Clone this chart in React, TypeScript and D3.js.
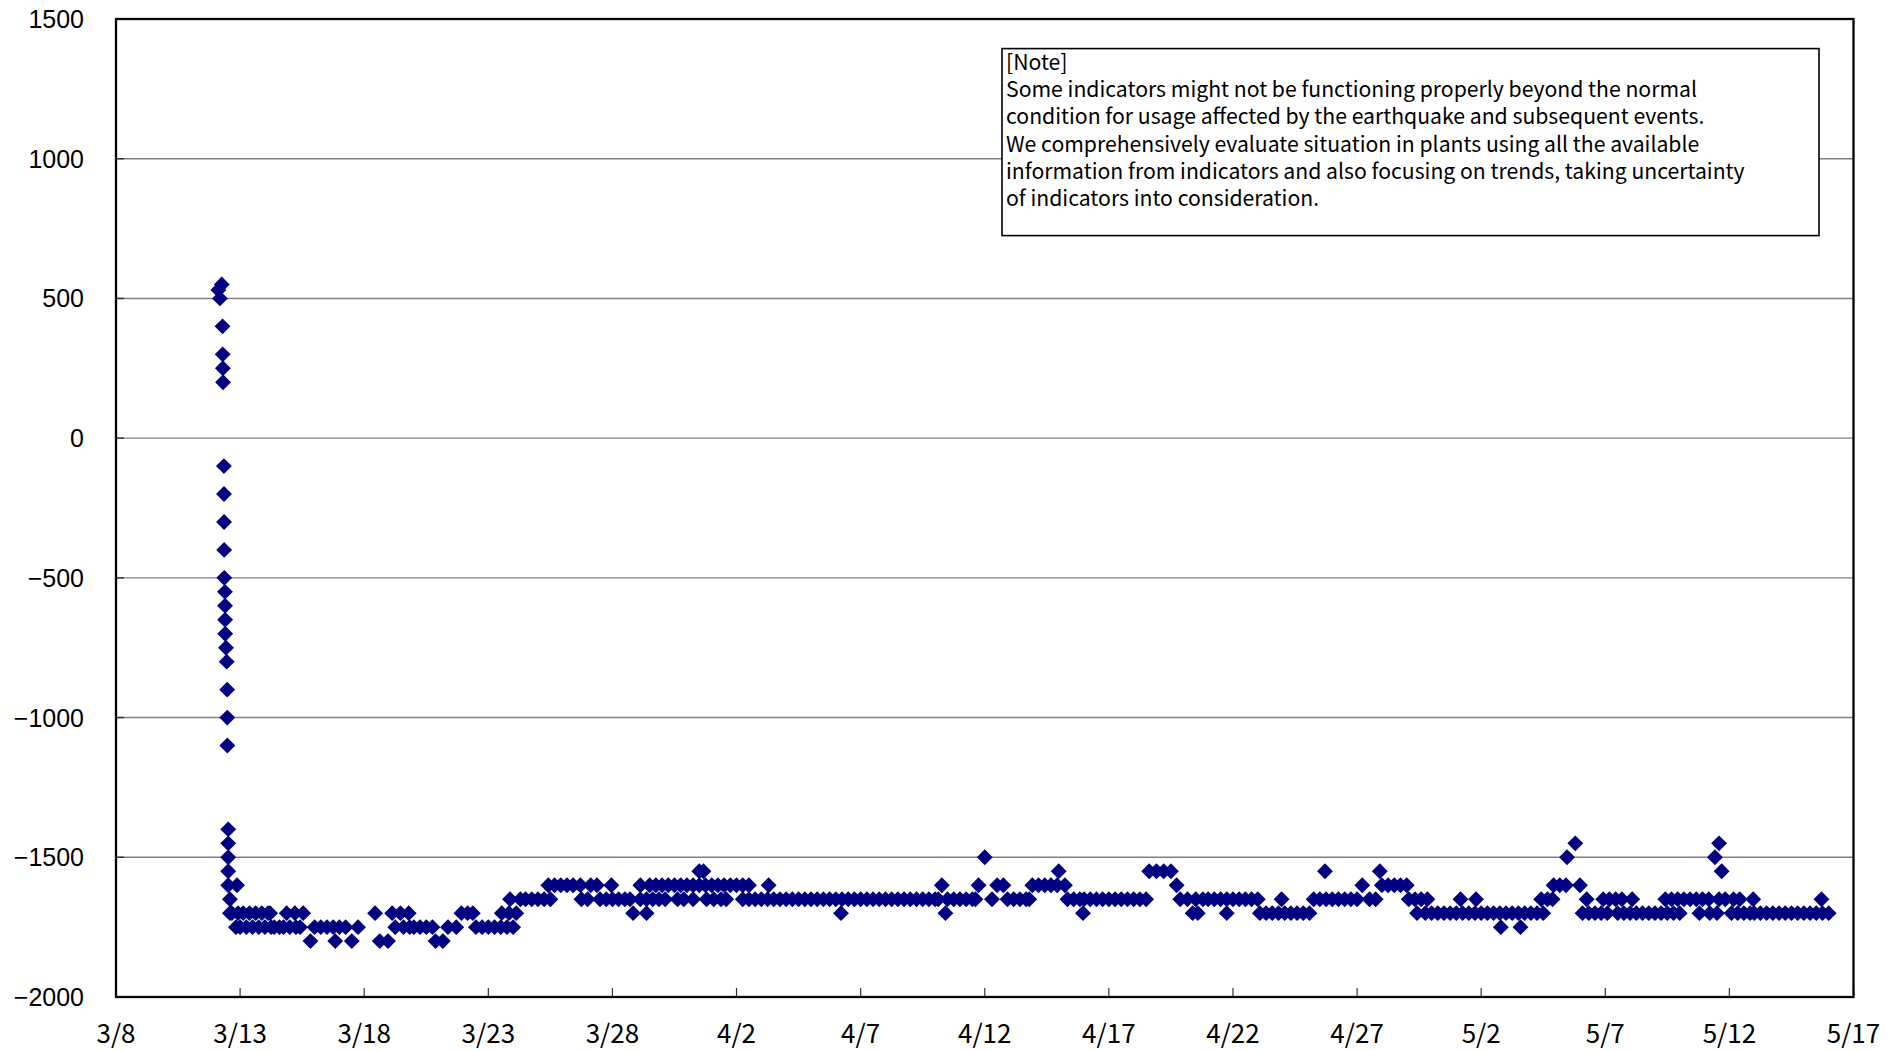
import React from "react";
import * as d3 from "d3";

// ---- data (time "M/D HH:MM", value) ----
const spikeReadings: [string, number][] = [
  ["3/12 03:00", 530], ["3/12 04:30", 500], ["3/12 06:15", 550],
  ["3/12 07:00", 400], ["3/12 07:10", 300], ["3/12 07:20", 250], ["3/12 07:30", 200],
  ["3/12 08:20", -100], ["3/12 08:25", -200], ["3/12 08:30", -300], ["3/12 08:35", -400], ["3/12 08:40", -500],
  ["3/12 09:20", -550], ["3/12 09:25", -600], ["3/12 09:30", -650], ["3/12 09:35", -700],
  ["3/12 10:20", -750], ["3/12 11:00", -800],
  ["3/12 11:30", -900], ["3/12 11:35", -1000], ["3/12 11:40", -1100],
  ["3/12 12:30", -1400], ["3/12 12:30", -1450], ["3/12 12:30", -1500], ["3/12 12:30", -1550],
  ["3/12 12:30", -1600], ["3/12 14:10", -1650], ["3/12 14:10", -1700], ["3/12 21:00", -1600],
];

const marchReadings: [string, number][] = [
  ["3/12 16:00", -1700], ["3/12 20:00", -1750], ["3/12 22:00", -1700],
  ["3/13 00:00", -1750], ["3/13 03:00", -1700], ["3/13 06:00", -1750], ["3/13 09:00", -1700],
  ["3/13 12:00", -1750], ["3/13 15:00", -1700], ["3/13 18:00", -1750], ["3/13 21:00", -1700],
  ["3/14 00:00", -1750], ["3/14 03:00", -1700], ["3/14 05:00", -1700], ["3/14 06:00", -1750],
  ["3/14 09:00", -1750], ["3/14 14:00", -1750], ["3/14 18:00", -1750], ["3/14 21:00", -1700],
  ["3/15 00:00", -1750], ["3/15 05:00", -1700], ["3/15 06:00", -1750], ["3/15 10:00", -1750],
  ["3/15 13:00", -1700], ["3/15 20:00", -1800],
  ["3/16 00:00", -1750], ["3/16 06:00", -1750], ["3/16 12:00", -1750], ["3/16 18:00", -1750], ["3/16 20:00", -1800],
  ["3/17 00:00", -1750], ["3/17 06:00", -1750], ["3/17 12:00", -1800], ["3/17 18:00", -1750],
  ["3/18 10:30", -1700], ["3/18 15:00", -1800], ["3/18 23:00", -1800],
  ["3/19 03:00", -1700], ["3/19 06:00", -1750], ["3/19 11:00", -1700], ["3/19 14:00", -1750],
  ["3/19 19:00", -1700], ["3/19 20:00", -1750],
  ["3/20 00:00", -1750], ["3/20 06:00", -1750], ["3/20 12:00", -1750], ["3/20 18:00", -1750], ["3/20 21:00", -1800],
  ["3/21 04:00", -1800], ["3/21 09:00", -1750], ["3/21 17:00", -1750], ["3/21 22:00", -1700],
  ["3/22 04:00", -1700], ["3/22 09:00", -1700], ["3/22 12:00", -1750], ["3/22 18:00", -1750],
  ["3/23 00:00", -1750], ["3/23 06:00", -1750], ["3/23 12:00", -1750], ["3/23 13:00", -1700],
  ["3/23 18:00", -1750], ["3/23 20:00", -1700], ["3/23 21:00", -1650],
  ["3/24 00:00", -1750], ["3/24 03:00", -1700], ["3/24 07:00", -1650], ["3/24 12:00", -1650], ["3/24 18:00", -1650],
  ["3/25 00:00", -1650], ["3/25 06:00", -1650], ["3/25 10:00", -1600], ["3/25 12:00", -1650],
  ["3/25 16:00", -1600], ["3/25 22:00", -1600],
  ["3/26 04:00", -1600], ["3/26 10:00", -1600], ["3/26 17:00", -1600], ["3/26 18:00", -1650],
  ["3/27 00:00", -1650], ["3/27 03:00", -1600], ["3/27 09:00", -1600], ["3/27 12:00", -1650],
  ["3/27 18:00", -1650], ["3/27 23:00", -1600],
  ["3/28 00:00", -1650], ["3/28 06:00", -1650], ["3/28 12:00", -1650], ["3/28 17:00", -1650], ["3/28 20:00", -1700],
  ["3/29 03:00", -1650], ["3/29 03:00", -1600], ["3/29 09:00", -1700], ["3/29 09:00", -1650],
  ["3/29 12:00", -1600], ["3/29 15:00", -1650], ["3/29 18:00", -1600], ["3/29 21:00", -1650],
  ["3/30 00:00", -1600], ["3/30 03:00", -1650], ["3/30 06:00", -1600], ["3/30 12:00", -1600],
  ["3/30 15:00", -1650], ["3/30 18:00", -1600], ["3/30 21:00", -1650],
  ["3/31 00:00", -1600], ["3/31 06:00", -1600], ["3/31 06:00", -1650], ["3/31 12:00", -1550],
  ["3/31 12:00", -1600], ["3/31 16:00", -1550], ["3/31 18:00", -1600], ["3/31 19:00", -1650],
];

const aprilReadings: [string, number][] = [
  ["4/1 00:00", -1600], ["4/1 02:00", -1650], ["4/1 06:00", -1600], ["4/1 09:00", -1650],
  ["4/1 12:00", -1600], ["4/1 14:00", -1650], ["4/1 18:00", -1600],
  ["4/2 00:00", -1600], ["4/2 06:00", -1600], ["4/2 06:00", -1650], ["4/2 12:00", -1600],
  ["4/2 12:00", -1650], ["4/2 18:00", -1650],
  ["4/3 00:00", -1650], ["4/3 06:00", -1650], ["4/3 07:00", -1600], ["4/3 12:00", -1650], ["4/3 18:00", -1650],
  ["4/4 00:00", -1650], ["4/4 06:00", -1650], ["4/4 12:00", -1650], ["4/4 18:00", -1650],
  ["4/5 00:00", -1650], ["4/5 06:00", -1650], ["4/5 12:00", -1650], ["4/5 18:00", -1650],
  ["4/6 00:00", -1650], ["4/6 05:00", -1700], ["4/6 06:00", -1650], ["4/6 12:00", -1650], ["4/6 18:00", -1650],
  ["4/7 00:00", -1650], ["4/7 06:00", -1650], ["4/7 12:00", -1650], ["4/7 18:00", -1650],
  ["4/8 00:00", -1650], ["4/8 06:00", -1650], ["4/8 12:00", -1650], ["4/8 18:00", -1650],
  ["4/9 00:00", -1650], ["4/9 06:00", -1650], ["4/9 12:00", -1650], ["4/9 18:00", -1650],
  ["4/10 00:00", -1650], ["4/10 03:00", -1650], ["4/10 06:30", -1600], ["4/10 10:00", -1700],
  ["4/10 12:00", -1650], ["4/10 18:00", -1650],
  ["4/11 00:00", -1650], ["4/11 06:00", -1650], ["4/11 12:00", -1650], ["4/11 15:00", -1650], ["4/11 18:00", -1600],
  ["4/12 00:00", -1500], ["4/12 07:00", -1650], ["4/12 12:00", -1600], ["4/12 18:00", -1600], ["4/12 22:00", -1650],
  ["4/13 04:00", -1650], ["4/13 10:00", -1650], ["4/13 16:00", -1650], ["4/13 19:00", -1650], ["4/13 22:00", -1600],
  ["4/14 04:00", -1600], ["4/14 10:00", -1600], ["4/14 16:00", -1600], ["4/14 22:00", -1600], ["4/14 23:30", -1550],
  ["4/15 05:30", -1600], ["4/15 08:00", -1650], ["4/15 14:00", -1650], ["4/15 20:00", -1650], ["4/15 23:00", -1700],
  ["4/16 00:00", -1650], ["4/16 06:00", -1650], ["4/16 12:00", -1650], ["4/16 18:00", -1650],
  ["4/17 00:00", -1650], ["4/17 06:00", -1650], ["4/17 12:00", -1650], ["4/17 18:00", -1650],
  ["4/18 00:00", -1650], ["4/18 06:00", -1650], ["4/18 12:00", -1650], ["4/18 15:00", -1550], ["4/18 22:00", -1550],
  ["4/19 05:00", -1550], ["4/19 12:00", -1550], ["4/19 17:30", -1600], ["4/19 21:00", -1650],
  ["4/20 04:00", -1650], ["4/20 09:00", -1700], ["4/20 12:00", -1650], ["4/20 14:00", -1700], ["4/20 19:00", -1650],
  ["4/21 00:00", -1650], ["4/21 06:00", -1650], ["4/21 12:00", -1650], ["4/21 18:00", -1700], ["4/21 18:00", -1650],
  ["4/22 00:00", -1650], ["4/22 06:00", -1650], ["4/22 12:00", -1650], ["4/22 18:00", -1650],
  ["4/23 00:00", -1650], ["4/23 02:00", -1700], ["4/23 08:00", -1700], ["4/23 14:00", -1700],
  ["4/23 20:00", -1700], ["4/23 23:00", -1650],
  ["4/24 02:00", -1700], ["4/24 08:00", -1700], ["4/24 14:00", -1700], ["4/24 20:00", -1700],
  ["4/25 02:00", -1700], ["4/25 06:00", -1650], ["4/25 12:00", -1650], ["4/25 17:00", -1550], ["4/25 18:00", -1650],
  ["4/26 00:00", -1650], ["4/26 06:00", -1650], ["4/26 12:00", -1650], ["4/26 18:00", -1650],
  ["4/27 00:00", -1650], ["4/27 05:00", -1600], ["4/27 12:00", -1650], ["4/27 18:00", -1650], ["4/27 22:00", -1550],
  ["4/28 00:00", -1600], ["4/28 06:00", -1600], ["4/28 12:00", -1600], ["4/28 18:00", -1600],
  ["4/29 00:00", -1600], ["4/29 02:00", -1650], ["4/29 08:00", -1650], ["4/29 10:00", -1700],
  ["4/29 14:00", -1650], ["4/29 18:00", -1700], ["4/29 20:00", -1650],
  ["4/30 00:00", -1700], ["4/30 06:00", -1700], ["4/30 12:00", -1700], ["4/30 18:00", -1700],
];

const mayReadings: [string, number][] = [
  ["5/1 00:00", -1700], ["5/1 04:00", -1650], ["5/1 06:00", -1700], ["5/1 12:00", -1700],
  ["5/1 18:00", -1700], ["5/1 19:00", -1650],
  ["5/2 00:00", -1700], ["5/2 06:00", -1700], ["5/2 12:00", -1700], ["5/2 18:00", -1700], ["5/2 19:00", -1750],
  ["5/3 00:00", -1700], ["5/3 06:00", -1700], ["5/3 12:00", -1700], ["5/3 14:00", -1750], ["5/3 18:00", -1700],
  ["5/4 00:00", -1700], ["5/4 06:00", -1700], ["5/4 10:00", -1650], ["5/4 12:00", -1700],
  ["5/4 16:00", -1650], ["5/4 21:00", -1650], ["5/4 22:00", -1600],
  ["5/5 04:00", -1600], ["5/5 10:00", -1600], ["5/5 11:00", -1500], ["5/5 19:00", -1450], ["5/5 23:30", -1600],
  ["5/6 02:00", -1700], ["5/6 06:00", -1650], ["5/6 08:00", -1700], ["5/6 14:00", -1700],
  ["5/6 20:00", -1700], ["5/6 22:00", -1650],
  ["5/7 02:00", -1700], ["5/7 04:00", -1650], ["5/7 10:00", -1650], ["5/7 12:00", -1700],
  ["5/7 16:00", -1650], ["5/7 18:00", -1700],
  ["5/8 00:00", -1700], ["5/8 02:00", -1650], ["5/8 06:00", -1700], ["5/8 12:00", -1700], ["5/8 18:00", -1700],
  ["5/9 00:00", -1700], ["5/9 06:00", -1700], ["5/9 10:00", -1650], ["5/9 12:00", -1700],
  ["5/9 16:00", -1650], ["5/9 18:00", -1700], ["5/9 22:00", -1650],
  ["5/10 00:00", -1700], ["5/10 04:00", -1650], ["5/10 10:00", -1650], ["5/10 16:00", -1650],
  ["5/10 19:00", -1700], ["5/10 22:00", -1650],
  ["5/11 04:00", -1650], ["5/11 05:00", -1700], ["5/11 10:00", -1500], ["5/11 12:00", -1700],
  ["5/11 14:00", -1450], ["5/11 14:00", -1650], ["5/11 16:30", -1550], ["5/11 20:00", -1650],
  ["5/12 02:00", -1700], ["5/12 04:00", -1650], ["5/12 08:00", -1700], ["5/12 10:00", -1650],
  ["5/12 14:00", -1700], ["5/12 20:00", -1700], ["5/12 23:00", -1650],
  ["5/13 00:00", -1700], ["5/13 06:00", -1700], ["5/13 12:00", -1700], ["5/13 18:00", -1700],
  ["5/14 00:00", -1700], ["5/14 06:00", -1700], ["5/14 12:00", -1700], ["5/14 18:00", -1700],
  ["5/15 00:00", -1700], ["5/15 06:00", -1700], ["5/15 12:00", -1700], ["5/15 17:00", -1650], ["5/15 18:00", -1700],
  ["5/16 00:00", -1700],
];

const yTicks = [1500, 1000, 500, 0, -500, -1000, -1500, -2000];
const gridValues = [1000, 500, 0, -500, -1000, -1500];
const xTickLabels = ["3/8", "3/13", "3/18", "3/23", "3/28", "4/2", "4/7", "4/12", "4/17", "4/22", "4/27", "5/2", "5/7", "5/12", "5/17"];
const noteLines = [
  "[Note]",
  "Some indicators might not be functioning properly beyond the normal",
  "condition for usage affected by the earthquake and subsequent events.",
  "We comprehensively evaluate situation in plants using all the available",
  "information from indicators and also focusing on trends, taking uncertainty",
  "of indicators into consideration.",
];

const W = 1904, H = 1051;
const M = { left: 116, right: 1853.5, top: 19, bottom: 997 };
const FONT = "'Noto Sans CJK JP', 'Noto Sans', sans-serif";
const YFONT = "'Liberation Sans', Arial, sans-serif";

export default function App() {
  const parseT = d3.timeParse("%m/%d %H:%M");
  const parseD = d3.timeParse("%m/%d");
  const x = d3.scaleTime()
    .domain([parseD("3/8") as Date, parseD("5/17") as Date])
    .range([M.left, M.right]);
  const y = d3.scaleLinear().domain([-2000, 1500]).range([M.bottom, M.top]);
  const all = [...spikeReadings, ...marchReadings, ...aprilReadings, ...mayReadings].map(([t, v]) => ({
    t: parseT(t) as Date,
    v,
  }));
  const diamond = d3.symbol().type(d3.symbolSquare).size(126)() as string;
  const fmt = (v: number) => (v < 0 ? "\u2212" + Math.abs(v) : String(v));

  return (
    <svg width={W} height={H} style={{ position: "fixed", left: 0, top: 0, background: "#fff" }}>
      <rect x={0} y={0} width={W} height={H} fill="#fff" />
      {gridValues.map((v) => (
        <line key={"g" + v} x1={M.left} x2={M.right} y1={y(v)} y2={y(v)} stroke="#808080" strokeWidth={1.4} />
      ))}
      {yTicks.map((v) => (
        <line key={"yt" + v} x1={M.left} x2={M.left + 8} y1={y(v)} y2={y(v)} stroke="#333" strokeWidth={1.4} />
      ))}
      {xTickLabels.map((l) => {
        const xx = x(parseD(l) as Date);
        return <line key={"xt" + l} x1={xx} x2={xx} y1={M.bottom} y2={M.bottom - 9} stroke="#333" strokeWidth={1.2} />;
      })}
      {all.map((d, i) => (
        <path key={i} d={diamond} transform={`translate(${x(d.t)},${y(d.v)}) rotate(45)`} fill="#000080" />
      ))}
      <rect x={M.left} y={M.top} width={M.right - M.left} height={M.bottom - M.top} fill="none" stroke="#000" strokeWidth={2.3} />
      {yTicks.map((v) => (
        <text key={"yl" + v} x={84} y={y(v)} dy="0.36em" textAnchor="end" fontFamily={YFONT} fontSize={25} fill="#000">
          {fmt(v)}
        </text>
      ))}
      {xTickLabels.map((l) => (
        <text key={"xl" + l} x={x(parseD(l) as Date)} y={1043} textAnchor="middle" fontFamily={FONT} fontSize={26} fill="#000">
          {l}
        </text>
      ))}
      <g>
        <rect x={1002} y={48.6} width={817} height={187} fill="#fff" stroke="#000" strokeWidth={1.6} />
        {noteLines.map((l, i) => (
          <text key={"n" + i} x={1006} y={70 + i * 27.2} fontFamily={FONT} fontSize={21.2} fill="#000">
            {l}
          </text>
        ))}
      </g>
    </svg>
  );
}
